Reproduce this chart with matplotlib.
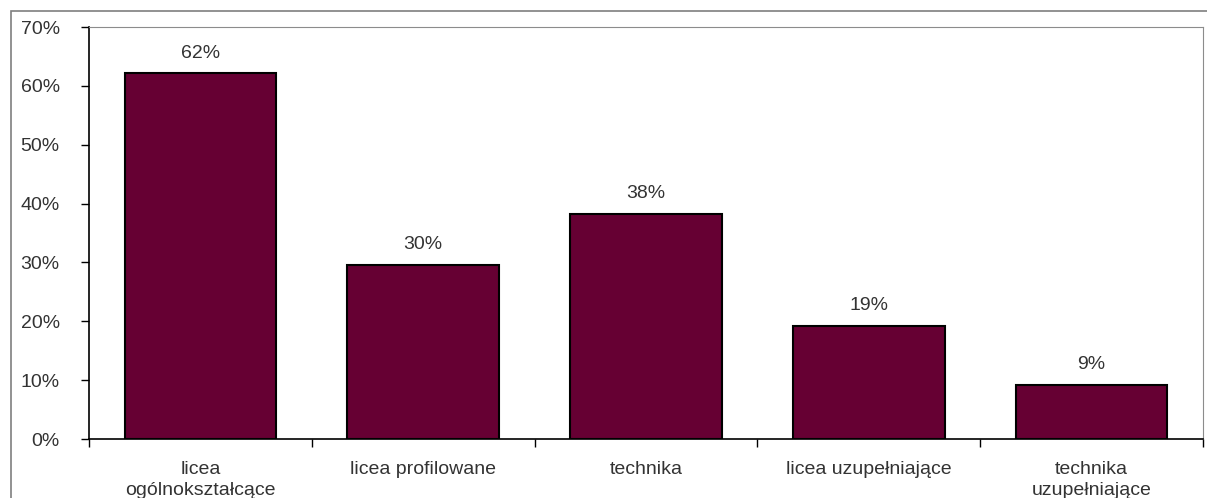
import matplotlib.pyplot as plt
import numpy as np
from matplotlib.patches import Rectangle
from matplotlib.ticker import FixedLocator, PercentFormatter

plt.rcParams['font.family'] = ['Liberation Sans', 'DejaVu Sans']

categories = ['licea\nogólnokształcące', 'licea profilowane', 'technika',
              'licea uzupełniające', 'technika\nuzupełniające']
values = [62.1, 29.6, 38.2, 19.2, 9.2]
labels = ['62%', '30%', '38%', '19%', '9%']

txt = '#333333'
fs = 14

fig = plt.figure(figsize=(12.07, 4.98), dpi=100)
# outer chart frame
fig.add_artist(Rectangle((11/1207, -0.1), 1.2, 1.1 - 11/498,
                         transform=fig.transFigure, fill=False,
                         edgecolor='#7f7f7f', linewidth=1.2))

ax = fig.add_axes([89/1207, 1 - 439/498, (1203 - 89)/1207, (439 - 27)/498])
x = np.arange(len(categories))
ax.bar(x, values, width=0.68, color='#660033', edgecolor='black', linewidth=1.5)

for xi, v, lab in zip(x, values, labels):
    ax.text(xi, v + 2.0, lab, ha='center', va='bottom', fontsize=fs, color=txt)

ax.set_xlim(-0.5, len(categories) - 0.5)
ax.set_ylim(0, 70)
ax.set_yticks(np.arange(0, 71, 10))
ax.yaxis.set_major_formatter(PercentFormatter(decimals=0))
ax.tick_params(axis='y', direction='out', length=6, width=1, labelsize=fs,
               labelcolor=txt, pad=15)

ax.set_xticks(x)
ax.set_xticklabels(categories, fontsize=fs, color=txt, linespacing=1.3)
ax.tick_params(axis='x', which='major', length=0, pad=16)
ax.xaxis.set_minor_locator(FixedLocator(np.arange(-0.5, len(categories), 1)))
ax.tick_params(axis='x', which='minor', direction='out', length=6, width=1)

ax.spines['left'].set_linewidth(1.2)
ax.spines['bottom'].set_linewidth(1.2)
ax.spines['top'].set_color('#8c8c8c')
ax.spines['right'].set_color('#8c8c8c')

fig.savefig('out.png', dpi=100)
